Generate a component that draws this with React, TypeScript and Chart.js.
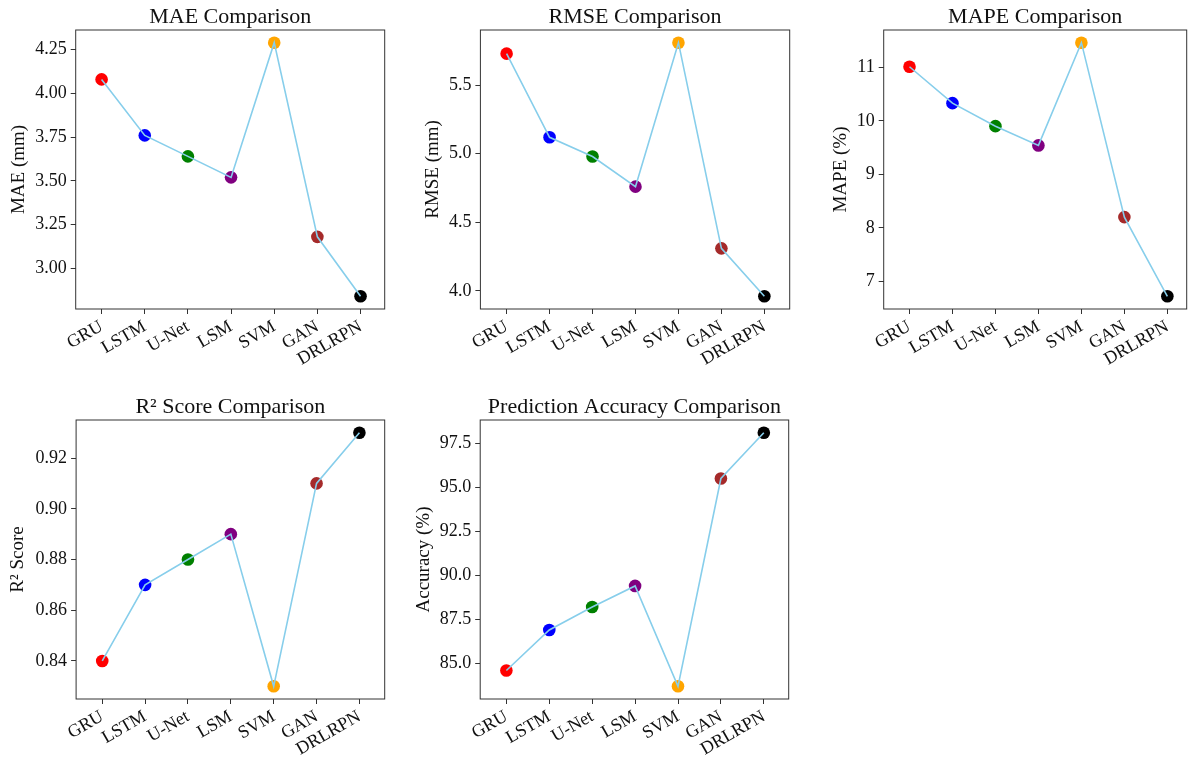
import React, { useEffect, useRef } from "react";
import { Chart, registerables } from "chart.js";

Chart.register(...registerables);

// ---------- data ----------
const models = ["GRU", "LSTM", "U-Net", "LSM", "SVM", "GAN", "DRLRPN"];
const markerColors = ["#ff0000", "#0000ff", "#008000", "#800080", "#ffa500", "#a52a2a", "#000000"];

const maeValues = [4.08, 3.76, 3.64, 3.52, 4.29, 3.18, 2.84];
const rmseValues = [5.73, 5.12, 4.98, 4.76, 5.81, 4.31, 3.96];
const mapeValues = [11.01, 10.33, 9.9, 9.54, 11.46, 8.2, 6.72];
const r2Values = [0.84, 0.87, 0.88, 0.89, 0.83, 0.91, 0.93];
const accuracyValues = [84.6, 86.9, 88.2, 89.4, 83.7, 95.5, 98.1];

const maeTicks = [3.0, 3.25, 3.5, 3.75, 4.0, 4.25];
const rmseTicks = [4.0, 4.5, 5.0, 5.5];
const mapeTicks = [7, 8, 9, 10, 11];
const r2Ticks = [0.84, 0.86, 0.88, 0.9, 0.92];
const accuracyTicks = [85, 87.5, 90, 92.5, 95, 97.5];

// ---------- layout / style ----------
const FONT = '"Liberation Serif", "Times New Roman", serif';
const TOP_PAD = 30;
const X_AXIS_H = 75;
const RIGHT_PAD = 4;

type PanelSpec = {
  title: string;
  ylabel: string;
  values: number[];
  ticks: number[];
  decimals: number;
  frame: { l: number; t: number; r: number; b: number };
  labelCenterX: number;
  xMin: number;
  xMax: number;
};

const panels: PanelSpec[] = [
  { title: "MAE Comparison", ylabel: "MAE (mm)", values: maeValues, ticks: maeTicks, decimals: 2,
    frame: { l: 76, t: 30, r: 387, b: 309 }, labelCenterX: 19.7, xMin: -0.6, xMax: 6.56 },
  { title: "RMSE Comparison", ylabel: "RMSE (mm)", values: rmseValues, ticks: rmseTicks, decimals: 1,
    frame: { l: 480, t: 30, r: 791.5, b: 309 }, labelCenterX: 433, xMin: -0.61, xMax: 6.59 },
  { title: "MAPE Comparison", ylabel: "MAPE (%)", values: mapeValues, ticks: mapeTicks, decimals: 0,
    frame: { l: 884, t: 30, r: 1189.3, b: 309 }, labelCenterX: 841.7, xMin: -0.6, xMax: 6.45 },
  { title: "R\u00B2 Score Comparison", ylabel: "R\u00B2 Score", values: r2Values, ticks: r2Ticks, decimals: 2,
    frame: { l: 76, t: 420, r: 387.3, b: 698.5 }, labelCenterX: 18.3, xMin: -0.61, xMax: 6.59 },
  { title: "Prediction Accuracy Comparison", ylabel: "Accuracy (%)", values: accuracyValues, ticks: accuracyTicks, decimals: 1,
    frame: { l: 480, t: 420, r: 790.7, b: 698.5 }, labelCenterX: 424.2, xMin: -0.61, xMax: 6.58 },
];

const framePlugin = {
  id: "frameAndTitle",
  afterDraw(chart: any, _args: any, opts: any) {
    const { ctx, chartArea: a } = chart;
    ctx.save();
    ctx.strokeStyle = "#333333";
    ctx.lineWidth = 1;
    ctx.strokeRect(a.left, a.top, a.right - a.left, a.bottom - a.top);
    ctx.fillStyle = "#111111";
    ctx.font = `22px ${FONT}`;
    ctx.textAlign = "center";
    ctx.textBaseline = "alphabetic";
    ctx.fillText(opts.title || "", (a.left + a.right) / 2, a.top - 7.5);
    ctx.restore();
  },
};

function Panel({ spec }: { spec: PanelSpec }) {
  const ref = useRef<HTMLCanvasElement | null>(null);
  const { l, t, r, b } = spec.frame;
  const labelFontSize = 19;
  const labelLineHeight = labelFontSize * 1.2;
  const canvasLeft = spec.labelCenterX - labelLineHeight / 2;
  const yAxisW = l - canvasLeft;
  const canvasTop = t - TOP_PAD;
  const width = Math.round(yAxisW + (r - l) + RIGHT_PAD);
  const height = Math.round(TOP_PAD + (b - t) + X_AXIS_H);
  const padRight = width - yAxisW - (r - l);

  useEffect(() => {
    const canvas = ref.current;
    if (!canvas) return;
    const vmin = Math.min(...spec.values);
    const vmax = Math.max(...spec.values);
    const margin = (vmax - vmin) * 0.05;
    const points = spec.values.map((v, i) => ({ x: i, y: v }));

    const chart = new Chart(canvas, {
      type: "scatter",
      data: {
        datasets: [
          {
            type: "line",
            data: points,
            borderColor: "#87ceeb",
            borderWidth: 1.6,
            pointRadius: 0,
            fill: false,
            tension: 0,
            order: 0,
          } as any,
          {
            type: "scatter",
            data: points,
            pointBackgroundColor: markerColors,
            pointBorderColor: markerColors,
            pointBorderWidth: 0,
            pointRadius: 6.3,
            order: 1,
          } as any,
        ],
      },
      options: {
        responsive: false,
        animation: false,
        events: [],
        layout: { padding: { top: TOP_PAD, right: padRight, left: 0, bottom: 0 } },
        plugins: {
          legend: { display: false },
          tooltip: { enabled: false },
          title: { display: false },
          frameAndTitle: { title: spec.title },
        } as any,
        scales: {
          x: {
            type: "linear",
            min: spec.xMin,
            max: spec.xMax,
            afterBuildTicks: (s: any) => {
              s.ticks = models.map((_, i) => ({ value: i }));
            },
            afterFit: (s: any) => {
              s.height = X_AXIS_H;
            },
            ticks: {
              autoSkip: false,
              minRotation: 30,
              maxRotation: 30,
              padding: 2,
              color: "#111111",
              font: { family: FONT, size: 18 },
              callback: (v: any) => models[Math.round(Number(v))] ?? "",
            },
            grid: {
              drawOnChartArea: false,
              drawTicks: true,
              tickLength: 5,
              color: "#333333",
              lineWidth: 1,
            },
            border: { display: false },
          },
          y: {
            type: "linear",
            min: vmin - margin,
            max: vmax + margin,
            afterBuildTicks: (s: any) => {
              s.ticks = spec.ticks.map((v) => ({ value: v }));
            },
            afterFit: (s: any) => {
              s.width = yAxisW;
            },
            ticks: {
              padding: 4,
              color: "#111111",
              font: { family: FONT, size: 18 },
              callback: (v: any) => Number(v).toFixed(spec.decimals),
            },
            grid: {
              drawOnChartArea: false,
              drawTicks: true,
              tickLength: 5,
              color: "#333333",
              lineWidth: 1,
            },
            border: { display: false },
            title: {
              display: true,
              text: spec.ylabel,
              color: "#111111",
              font: { family: FONT, size: labelFontSize, lineHeight: 1.2 },
              padding: { top: 0, bottom: 0 },
            },
          },
        },
      },
      plugins: [framePlugin as any],
    });
    return () => chart.destroy();
  }, []);

  return (
    <canvas
      ref={ref}
      width={width}
      height={height}
      style={{ position: "absolute", left: canvasLeft, top: canvasTop, width, height }}
    />
  );
}

export default function App() {
  return (
    <div
      style={{
        position: "absolute",
        left: 0,
        top: 0,
        width: 1196,
        height: 761,
        background: "#ffffff",
        overflow: "hidden",
      }}
    >
      {panels.map((p, i) => (
        <Panel key={i} spec={p} />
      ))}
    </div>
  );
}
